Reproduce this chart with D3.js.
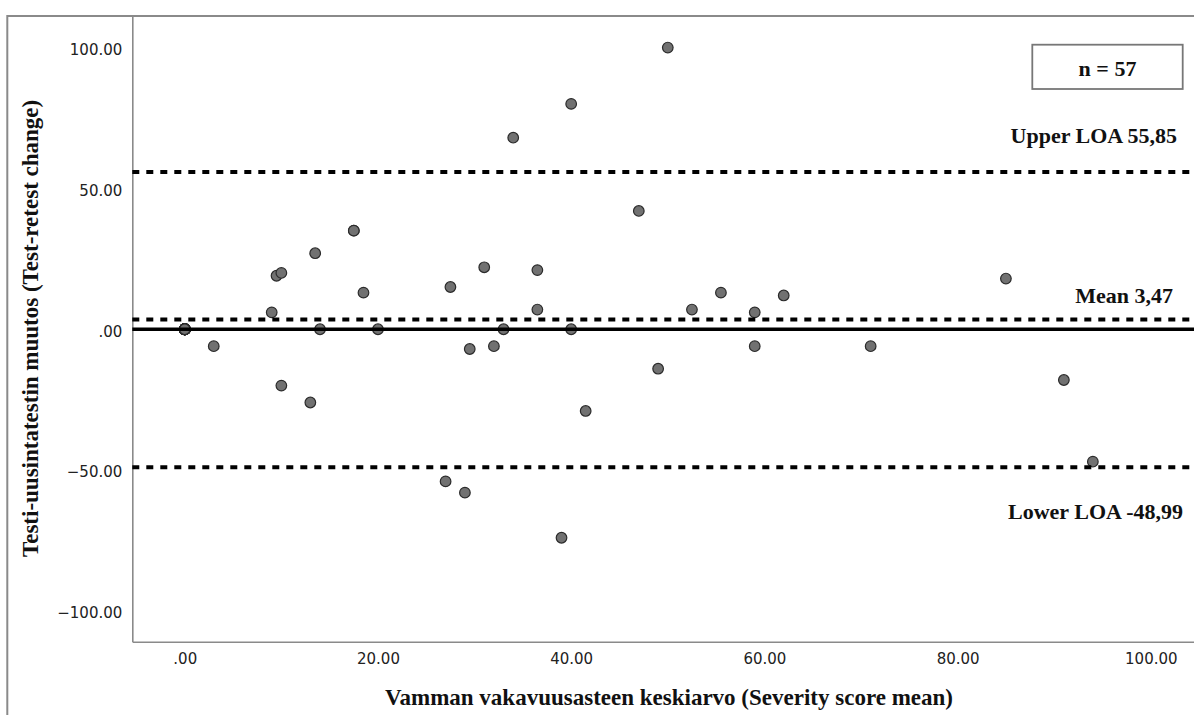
<!DOCTYPE html>
<html lang="fi">
<head>
    <meta charset="UTF-8">
    <title>Bland-Altman</title>
    <script src="https://d3js.org/d3.v7.min.js"></script>
    <style>
        body { margin: 0; background: #fff; }
        .tick text { font-family: "DejaVu Sans", sans-serif; font-size: 15px; fill: #222; }
        .title { font-family: "Liberation Serif", "Times New Roman", serif; font-weight: bold; font-size: 22px; fill: #111; }
        .axis-title { font-size: 23px; }
    </style>
</head>
<body>
    <div id="chart"></div>
    <script>
        // mean of the two scores (x) and test-retest difference (y)
        const meanScore = [0, 0, 0, 0, 0, 0, 0, 0, 0, 0, 0, 0, 0, 0, 0, 0, 0, 0, 0,
            3, 9, 9.5, 10, 10, 13, 13.5, 14, 17.5, 17.5, 18.5, 20, 27, 27.5, 29, 29.5,
            31, 32, 33, 34, 36.5, 36.5, 39, 40, 40, 41.5, 47, 49, 50, 52.5, 55.5,
            59, 59, 62, 71, 85, 91, 94];
        const diffScore = [0, 0, 0, 0, 0, 0, 0, 0, 0, 0, 0, 0, 0, 0, 0, 0, 0, 0, 0,
            -6, 6, 19, 20, -20, -26, 27, 0, 35, 35, 13, 0, -54, 15, -58, -7,
            22, -6, 0, 68, 21, 7, -74, 80, 0, -29, 42, -14, 100, 7, 13,
            6, -6, 12, -6, 18, -18, -47];

        const xTicks = [0, 20, 40, 60, 80, 100];
        const yTicks = [-100, -50, 0, 50, 100];

        const loaValues = [55.85, 3.47, -48.99];
        const loaLabels = ["Upper LOA 55,85", "Mean 3,47", "Lower LOA -48,99"];
        const sampleLabel = "n = 57";

        const width = 1194, height = 715;
        const m = { left: 132.3, right: 1194, top: 16, bottom: 641.7 };

        const svg = d3.select("#chart").append("svg")
            .attr("width", width)
            .attr("height", height);

        const x = d3.scaleLinear().domain([-5.43, 104.47]).range([m.left, m.right]);
        const y = d3.scaleLinear().domain([-110.9, 111.2]).range([m.bottom, m.top]);

        const fmt = v => v === 0 ? ".00" : d3.format(".2f")(v);

        // outer frame
        svg.append("path")
            .attr("d", `M7.3,${height} V${m.top} H${width}`)
            .attr("fill", "none")
            .attr("stroke", "#8a8a8a")
            .attr("stroke-width", 2);

        // axes
        const yAxis = svg.append("g")
            .attr("transform", `translate(${m.left},0)`)
            .call(d3.axisLeft(y).tickValues(yTicks).tickFormat(fmt).tickSize(0).tickPadding(10));
        yAxis.selectAll(".tick text").attr("dy", "0.45em");
        const xAxis = svg.append("g")
            .attr("transform", `translate(0,${m.bottom})`)
            .call(d3.axisBottom(x).tickValues(xTicks).tickFormat(fmt).tickSize(0).tickPadding(12));
        [xAxis, yAxis].forEach(a => {
            a.select(".domain").attr("stroke", "#8a8a8a").attr("stroke-width", 1.6);
            a.attr("font-family", null).attr("font-size", null);
        });

        // points
        svg.append("g").selectAll("circle")
            .data(meanScore.map((v, i) => [v, diffScore[i]]))
            .join("circle")
            .attr("cx", d => x(d[0]))
            .attr("cy", d => y(d[1]))
            .attr("r", 5.3)
            .attr("fill", "#717171")
            .attr("stroke", "#2b2b2b")
            .attr("stroke-width", 1.2);

        // zero line
        svg.append("line")
            .attr("x1", m.left).attr("x2", m.right)
            .attr("y1", y(0)).attr("y2", y(0))
            .attr("stroke", "#000")
            .attr("stroke-width", 3.6);

        // mean and limits of agreement
        svg.append("g").selectAll("line")
            .data(loaValues)
            .join("line")
            .attr("x1", m.left).attr("x2", m.right)
            .attr("y1", d => y(d)).attr("y2", d => y(d))
            .attr("stroke", "#000")
            .attr("stroke-width", 4)
            .attr("stroke-dasharray", "7,7");

        const labelOffsets = [[-17, -29], [-21, -16], [-11, 52]];
        svg.append("g").selectAll("text")
            .data(loaValues)
            .join("text")
            .attr("class", "title")
            .attr("text-anchor", "end")
            .attr("x", (d, i) => m.right + labelOffsets[i][0])
            .attr("y", (d, i) => y(d) + labelOffsets[i][1])
            .text((d, i) => loaLabels[i]);

        // n box
        svg.append("rect")
            .attr("x", 1032.3).attr("y", 44.7)
            .attr("width", 150.4).attr("height", 44.3)
            .attr("fill", "#fff")
            .attr("stroke", "#777")
            .attr("stroke-width", 1.8);
        svg.append("text")
            .attr("class", "title")
            .attr("x", 1107.5).attr("y", 75.7)
            .attr("text-anchor", "middle")
            .text(sampleLabel);

        // axis titles
        svg.append("text")
            .attr("class", "title axis-title")
            .attr("x", 669).attr("y", 705)
            .attr("text-anchor", "middle")
            .text("Vamman vakavuusasteen keskiarvo (Severity score mean)");

        svg.append("text")
            .attr("class", "title axis-title")
            .attr("transform", "translate(37.5,328.4) rotate(-90)")
            .attr("text-anchor", "middle")
            .text("Testi-uusintatestin muutos (Test-retest change)");
    </script>
</body>
</html>
